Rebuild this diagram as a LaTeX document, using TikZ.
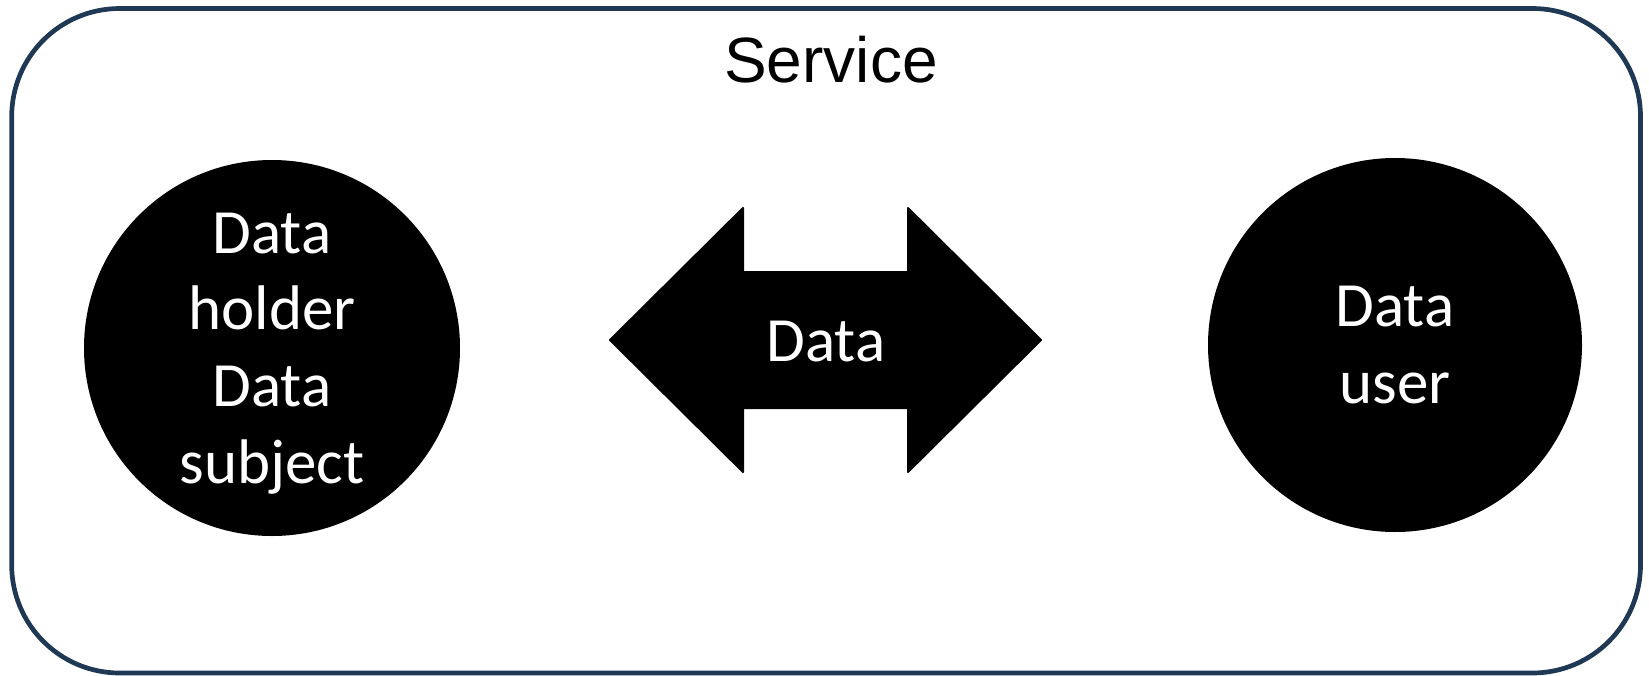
\documentclass[tikz,border=0pt]{standalone}
\usepackage{fontspec}
\setmainfont{Carlito}
\newfontfamily\headfont{Liberation Sans}
\usepackage{tikz}
\definecolor{framenavy}{RGB}{31,56,84}

\begin{document}
\begin{tikzpicture}[x=0.5pt, y=-0.5pt,
        frame/.style={draw=framenavy, line width=2.35pt, rounded corners=54pt},
        party/.style={circle, fill=black, text=white, inner sep=0pt, align=center, text depth=0pt, font=\fontsize{31.5}{38.4}\selectfont},
        flow/.style={fill=black, draw=black, line width=1pt, line join=round}]
            \useasboundingbox (0, 0) rectangle (1649, 675);

            \draw[frame] (11.7, 8.5) rectangle (1640.5, 673);
            \node[font=\headfont\fontsize{32}{38}\selectfont](service) at (831, 60) {Service};

            \node[party, minimum size=188pt](holder) at (272, 348) {Data\\holder\\Data\\subject};
            \node[party, minimum size=187pt](user) at (1395, 345) {Data\\user};

            \fill[flow] (610, 340) -- (743, 208) -- (743, 272) -- (908, 272) -- (908, 208)
                -- (1041, 340) -- (908, 472) -- (908, 408) -- (743, 408) -- (743, 472) -- cycle;
            \node[text=white, font=\fontsize{31.5}{38}\selectfont](data) at (826, 342) {Data};

        \end{tikzpicture}
\end{document}
